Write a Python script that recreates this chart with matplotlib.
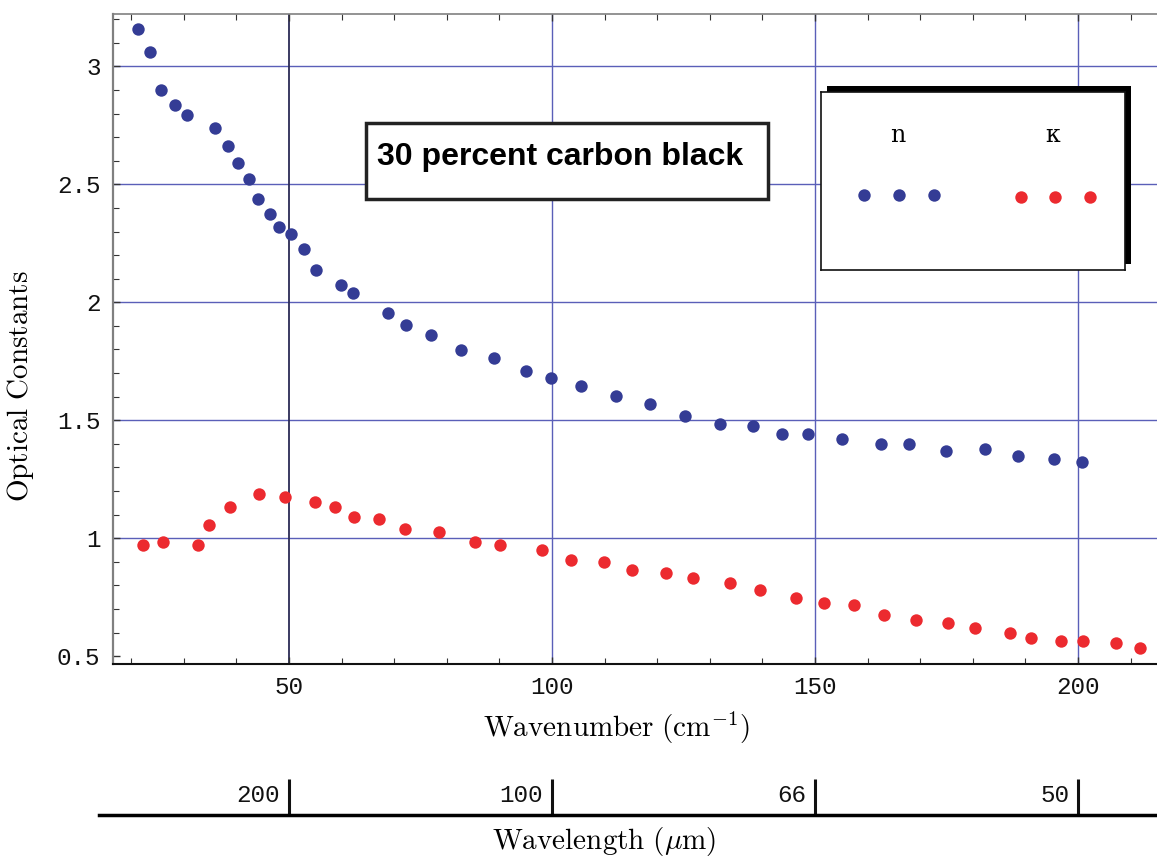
import numpy as np
import matplotlib
matplotlib.use('Agg')
import matplotlib.pyplot as plt
from matplotlib.patches import Rectangle
from matplotlib.ticker import MultipleLocator, FixedLocator, NullFormatter
from matplotlib.transforms import offset_copy

plt.rcParams['mathtext.fontset'] = 'cm'
plt.rcParams['font.family'] = 'DejaVu Sans'

# data: n (blue) and kappa (red) vs wavenumber (cm^-1)
n_wavenumber = [21.35, 23.57, 25.72, 28.38, 30.67, 35.87, 38.46, 40.25, 42.45, 44.16,
                46.39, 48.16, 50.32, 52.91, 55.13, 59.94, 62.22, 68.82, 72.21, 77.07,
                82.76, 88.92, 94.96, 99.83, 105.53, 112.13, 118.65, 125.36, 131.86, 138.12,
                143.71, 148.57, 155.19, 162.62, 167.85, 174.83, 182.26, 188.52, 195.49, 200.72]
n_values = [3.157, 3.059, 2.900, 2.835, 2.792, 2.739, 2.664, 2.589, 2.524, 2.438,
            2.374, 2.319, 2.288, 2.225, 2.138, 2.075, 2.041, 1.955, 1.904, 1.860,
            1.797, 1.764, 1.710, 1.678, 1.647, 1.603, 1.570, 1.518, 1.486, 1.475,
            1.442, 1.442, 1.421, 1.400, 1.400, 1.370, 1.380, 1.347, 1.335, 1.325]

k_wavenumber = [22.19, 26.05, 32.70, 34.79, 38.73, 44.35, 49.18, 54.89, 58.80, 62.30,
                67.05, 72.02, 78.44, 85.42, 90.19, 98.00, 103.69, 109.85, 115.17, 121.60,
                126.83, 133.80, 139.49, 146.46, 151.69, 157.40, 163.08, 169.14, 175.21, 180.44,
                187.13, 190.99, 196.67, 200.91, 207.15, 211.83]
k_values = [0.970, 0.983, 0.970, 1.056, 1.133, 1.186, 1.176, 1.154, 1.134, 1.089,
            1.081, 1.038, 1.027, 0.983, 0.973, 0.950, 0.908, 0.898, 0.866, 0.854,
            0.833, 0.811, 0.780, 0.747, 0.725, 0.715, 0.673, 0.652, 0.640, 0.620,
            0.598, 0.577, 0.565, 0.565, 0.556, 0.533]

wavenumber_ticks = [50, 100, 150, 200]
wavelength_um = [200, 100, 66.67, 50]
wavelength_labels = ['200', '100', '66', '50']
caption = '30 percent carbon black'

blue = '#343C95'
red = '#EC2A2F'
grid_c = '#5A5FB8'
mono = 'Liberation Mono'

W, H = 1157, 860
fig = plt.figure(figsize=(W / 100, H / 100), dpi=100)

def fx(px):
    return px / W

def fy(py):
    return 1 - py / H

# main axes
ax = fig.add_axes([fx(113), fy(664), fx(1157) - fx(113), fy(14) - fy(664)])
xlo, xhi = 16.54, 215.0
ax.set_xlim(xlo, xhi)
ax.set_ylim(0.467, 3.222)

for v in [1, 1.5, 2, 2.5, 3]:
    ax.axhline(v, color=grid_c, lw=1.0, zorder=1)
for v in [100, 150, 200]:
    ax.axvline(v, color=grid_c, lw=1.0, zorder=1)
ax.axvline(50, color='#2B2B55', lw=1.3, zorder=1)

ax.scatter(n_wavenumber, n_values, s=80, color=blue, lw=0, zorder=3)
ax.scatter(k_wavenumber, k_values, s=80, color=red, lw=0, zorder=3)

ax.xaxis.set_major_locator(FixedLocator(wavenumber_ticks))
ax.xaxis.set_minor_locator(MultipleLocator(10))
ax.yaxis.set_major_locator(MultipleLocator(0.5))
ax.yaxis.set_minor_locator(MultipleLocator(0.1))
ax.yaxis.set_major_formatter(matplotlib.ticker.FuncFormatter(lambda v, p: '%g' % v))
ax.tick_params(which='both', direction='in', top=True, right=False, colors='#333333')
ax.tick_params(which='major', length=5, width=1)
ax.tick_params(which='minor', length=4, width=0.8)
ax.tick_params(axis='x', which='major', pad=9)
ax.tick_params(axis='y', which='major', pad=9)
for lab in ax.get_xticklabels() + ax.get_yticklabels():
    lab.set_fontfamily(mono)
    lab.set_fontsize(17.5)
    lab.set_color('#111111')

ax.spines['right'].set_visible(False)
ax.spines['left'].set_color('#808080')
ax.spines['left'].set_linewidth(1.6)
ax.spines['top'].set_color('#808080')
ax.spines['top'].set_linewidth(1.2)
ax.spines['bottom'].set_color('#111111')
ax.spines['bottom'].set_linewidth(1.5)

ax.set_xlabel(r'$\mathrm{Wavenumber\ (cm^{-1})}$', fontsize=21)
ax.xaxis.set_label_coords(0.482, -0.070)
ax.set_ylabel(r'$\mathrm{Optical\ Constants}$', fontsize=21)
ax.yaxis.set_label_coords(-0.074, 0.428)

# wavelength axis underneath
px_per_unit = (1157 - 113) / (xhi - xlo)
ax2 = fig.add_axes([fx(99), fy(815), fx(1157) - fx(99), 40 / H])
ax2.set_xlim(xlo - (113 - 99) / px_per_unit, xhi)
ax2.set_ylim(0, 1)
ax2.patch.set_alpha(0)
for s in ['left', 'right', 'top']:
    ax2.spines[s].set_visible(False)
ax2.spines['bottom'].set_linewidth(2.5)
ax2.spines['bottom'].set_color('#000000')
wl_pos = [1e4 / w for w in wavelength_um]
ax2.set_xticks(wl_pos)
ax2.xaxis.set_major_formatter(NullFormatter())
ax2.set_yticks([])
ax2.tick_params(axis='x', direction='in', length=26, width=2.2, color='#111111')
trans = offset_copy(ax2.transData, fig=fig, x=-9, y=0, units='dots')
for p, lab in zip(wl_pos, wavelength_labels):
    ax2.text(p, 0.5, lab, transform=trans, ha='right', va='center',
             fontfamily=mono, fontsize=17.5, color='#111111')
ax2.set_xlabel(r'$\mathrm{Wavelength\ (}\mu\mathrm{m)}$', fontsize=21)
ax2.xaxis.set_label_coords(0.477, -0.25)

# caption box
fig.add_artist(Rectangle((fx(366), fy(199)), fx(768) - fx(366), fy(123) - fy(199),
                         transform=fig.transFigure, facecolor='white',
                         edgecolor='#222222', lw=2.5, zorder=2))
fig.text(fx(377), fy(157), caption, ha='left', va='center', fontsize=23,
         fontweight='bold', fontfamily='Liberation Sans', zorder=3)

# legend box with shadow
fig.add_artist(Rectangle((fx(827), fy(264)), fx(1131) - fx(827), fy(86) - fy(264),
                         transform=fig.transFigure, facecolor='black',
                         edgecolor='black', lw=0, zorder=2))
lax = fig.add_axes([fx(821), fy(270), fx(1125) - fx(821), fy(92) - fy(270)], zorder=3)
lax.set_xlim(0, 1)
lax.set_ylim(0, 1)
lax.set_xticks([])
lax.set_yticks([])
for s in lax.spines.values():
    s.set_linewidth(1.2)
    s.set_color('#111111')
lax.text(0.253, 0.753, 'n', ha='center', va='center', fontfamily='DejaVu Serif', fontsize=17)
lax.text(0.763, 0.753, 'κ', ha='center', va='center', fontfamily='DejaVu Serif', fontsize=17)
lax.scatter([0.141, 0.257, 0.372], [0.421] * 3, s=80, color=blue, lw=0)
lax.scatter([0.658, 0.770, 0.885], [0.410] * 3, s=80, color=red, lw=0)

fig.savefig('out.png', dpi=100)
